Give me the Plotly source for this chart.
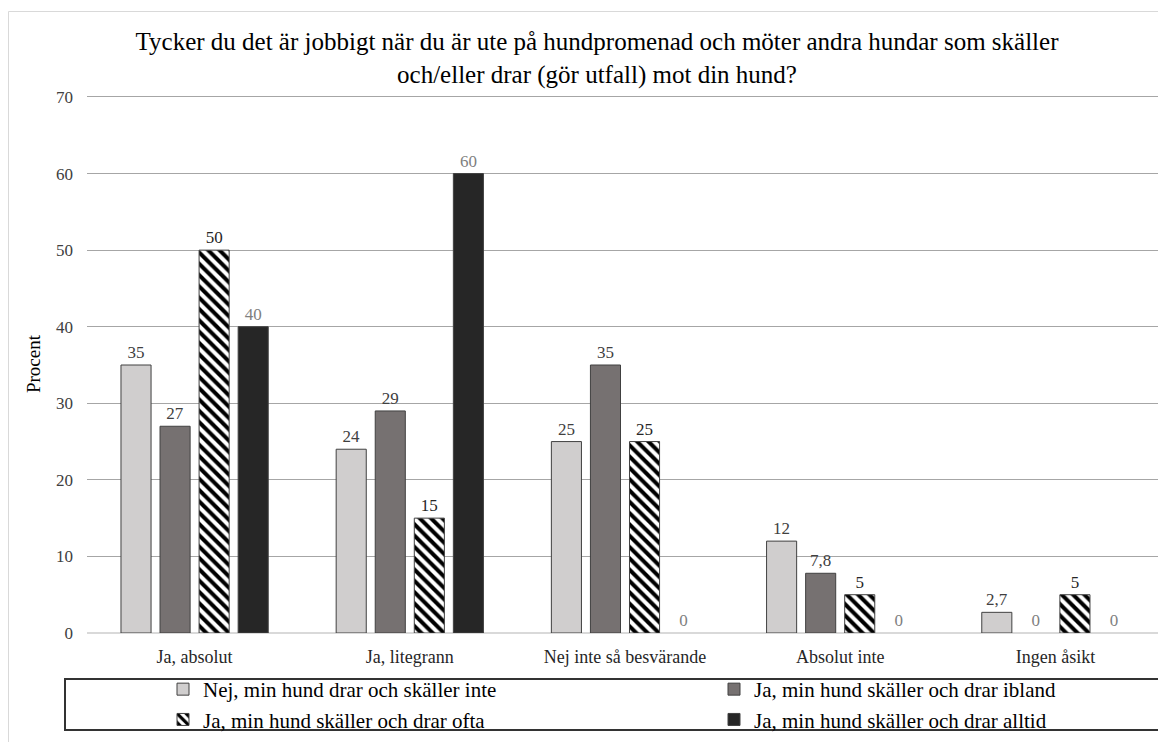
import plotly.graph_objects as go

categories = ["Ja, absolut", "Ja, litegrann", "Nej inte så besvärande", "Absolut inte", "Ingen åsikt"]
series_names = [
    "Nej, min hund drar och skäller inte",
    "Ja, min hund skäller och drar ibland",
    "Ja, min hund skäller och drar ofta",
    "Ja, min hund skäller och drar alltid",
]
nej_inte = [35, 24, 25, 12, 2.7]
ibland = [27, 29, 35, 7.8, 0]
ofta = [50, 15, 25, 5, 5]
alltid = [40, 60, 0, 0, 0]
y_ticks = [0, 10, 20, 30, 40, 50, 60, 70]

FONT = "Liberation Serif"

def fmt(v):
    s = f"{v:g}"
    return s.replace(".", ",")

styles = [
    dict(color="#d0cece", pattern=None, text="#404040", legend="legend"),
    dict(color="#767171", pattern=None, text="#404040", legend="legend2"),
    dict(color="white", pattern=dict(shape="\\", fgcolor="black", bgcolor="white", size=8, solidity=0.5, fillmode="replace"), text="#262626", legend="legend"),
    dict(color="#262626", pattern=None, text="#7f7f7f", legend="legend2"),
]

fig = go.Figure()
for name, vals, st in zip(series_names, [nej_inte, ibland, ofta, alltid], styles):
    marker = dict(color=st["color"], line=dict(color="#404040", width=[1 if v != 0 else 0 for v in vals]))
    if st["pattern"]:
        marker["pattern"] = st["pattern"]
    fig.add_trace(go.Bar(
        x=categories, y=vals, name=name, marker=marker,
        text=[fmt(v) for v in vals], textposition="outside", cliponaxis=False,
        textfont=dict(family=FONT, size=17, color=[st["text"] if v != 0 else "#7f7f7f" for v in vals]),
        legend=st["legend"],
    ))

L, R, T, B = 79, 11, 87, 117
W, H = 1166, 742
pw, ph = W - L - R, H - T - B

def px(x):
    return (x - L) / pw

def py(y):
    return (H - B - y) / ph

fig.update_layout(
    width=W, height=H,
    margin=dict(l=L, r=R, t=T, b=B, autoexpand=False),
    paper_bgcolor="white", plot_bgcolor="white",
    barmode="group", bargap=0.274, bargroupgap=0.23,
    font=dict(family=FONT, color="#262626"),
    title=dict(
        text="Tycker du det är jobbigt när du är ute på hundpromenad och möter andra hundar som skäller<br>och/eller drar (gör utfall) mot din hund?",
        x=589 / W, xanchor="center", y=1 - 42 / H, yanchor="middle", yref="container",
        font=dict(family=FONT, size=25, color="#000000"),
    ),
    xaxis=dict(showgrid=False, showline=False, ticks="",
               tickfont=dict(family=FONT, size=18, color="#262626"), ticklabelstandoff=11),
    yaxis=dict(range=[0, 70.26], tickvals=y_ticks, showgrid=True, gridcolor="#a6a6a6", gridwidth=1,
               zeroline=True, zerolinecolor="#d9d9d9", zerolinewidth=1.5,
               showline=False, ticks="", ticklabelstandoff=13,
               tickfont=dict(family=FONT, size=17, color="#404040"),
               title=dict(text="Procent", font=dict(family=FONT, size=19, color="#000000"), standoff=10)),
    legend=dict(orientation="v", x=px(155), xanchor="left", y=py(661), yanchor="top",
                font=dict(family=FONT, size=21, color="#000000"), bgcolor="rgba(0,0,0,0)",
                itemwidth=30, tracegroupgap=0),
    legend2=dict(orientation="v", x=px(706), xanchor="left", y=py(661), yanchor="top",
                 font=dict(family=FONT, size=21, color="#000000"), bgcolor="rgba(0,0,0,0)",
                 itemwidth=30, tracegroupgap=0),
    showlegend=True,
    shapes=[
        dict(type="rect", xref="paper", yref="paper", x0=px(57), x1=px(1153), y0=py(722), y1=py(671),
             line=dict(color="#333333", width=2), fillcolor="rgba(0,0,0,0)", layer="below"),
        dict(type="rect", xref="paper", yref="paper", x0=px(0.5), x1=px(1180), y0=py(760), y1=py(3.5),
             line=dict(color="#d9d9d9", width=1), fillcolor="rgba(0,0,0,0)", layer="below"),
    ],
)

fig.write_html("out.html")
